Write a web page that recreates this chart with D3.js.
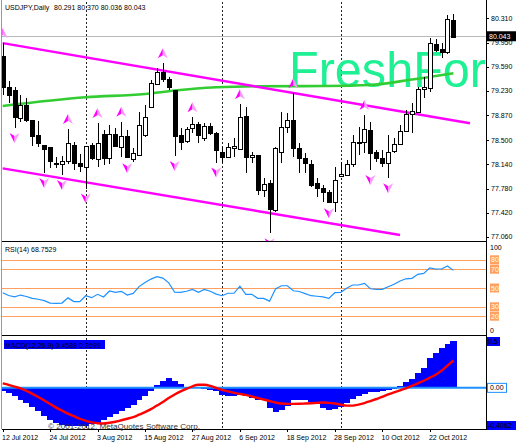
<!DOCTYPE html>
<html><head><meta charset="utf-8">
<script src="https://cdn.jsdelivr.net/npm/d3@7/dist/d3.min.js"></script>
<style>html,body{margin:0;padding:0;background:#fff;}svg{display:block;font-family:"Liberation Sans",Arial,sans-serif;}</style>
</head><body>
<script>
// ---------- DATA ----------
const dates = ["12 Jul","13 Jul","16 Jul","17 Jul","18 Jul","19 Jul","20 Jul","23 Jul","24 Jul","25 Jul","26 Jul","27 Jul","30 Jul","31 Jul",
"1 Aug","2 Aug","3 Aug","6 Aug","7 Aug","8 Aug","9 Aug","10 Aug","13 Aug","14 Aug","15 Aug","16 Aug","17 Aug","20 Aug","21 Aug","22 Aug","23 Aug","24 Aug","27 Aug","28 Aug","29 Aug","30 Aug","31 Aug",
"3 Sep","4 Sep","5 Sep","6 Sep","7 Sep","10 Sep","11 Sep","12 Sep","13 Sep","14 Sep","17 Sep","18 Sep","19 Sep","20 Sep","21 Sep","24 Sep","25 Sep","26 Sep","27 Sep","28 Sep",
"1 Oct","2 Oct","3 Oct","4 Oct","5 Oct","8 Oct","9 Oct","10 Oct","11 Oct","12 Oct","15 Oct","16 Oct","17 Oct","18 Oct","19 Oct","22 Oct","23 Oct","24 Oct","25 Oct","26 Oct"];
const open  = [79.750,79.294,79.245,78.824,79.022,78.799,78.576,78.427,78.393,78.165,78.145,78.179,78.427,78.165,78.105,78.427,78.230,78.590,78.230,78.590,78.400,78.560,78.215,78.279,78.576,78.988,79.334,79.517,79.404,79.245,78.576,78.477,78.676,78.735,78.527,78.710,78.610,78.328,78.254,78.378,78.378,78.858,78.244,78.279,77.759,77.858,77.463,78.328,78.700,78.800,78.378,78.230,78.145,77.858,77.793,77.734,77.585,77.967,77.982,78.145,78.477,78.467,78.650,78.328,78.239,78.170,78.328,78.438,78.635,78.883,78.922,79.260,79.270,79.924,79.849,79.814,80.291];
const high  = [79.943,79.378,79.294,79.170,79.126,78.800,78.788,78.430,78.400,78.254,78.268,78.665,78.477,78.293,78.413,78.457,78.754,78.650,78.724,78.680,78.774,78.650,78.383,78.922,79.022,79.393,79.567,79.641,79.443,79.245,78.680,78.700,78.839,78.774,78.750,78.750,78.625,78.400,78.452,78.527,79.032,78.997,78.328,78.279,77.933,77.900,78.400,78.922,78.898,79.196,78.452,78.304,78.204,77.933,77.833,77.759,78.096,78.179,78.204,78.576,78.700,78.873,78.774,78.353,78.353,78.576,78.527,78.724,78.953,79.047,79.294,79.443,80.013,80.002,79.939,80.360,80.370];
const low   = [79.170,79.051,78.680,78.774,78.774,78.410,78.400,78.011,78.081,78.081,77.980,78.145,78.056,78.030,77.780,78.200,78.105,78.130,78.145,78.400,78.254,78.230,78.180,78.279,78.550,78.973,79.319,79.368,79.245,78.264,78.353,78.462,78.610,78.462,78.490,78.576,78.165,78.155,78.230,78.254,78.363,78.007,78.165,77.685,77.660,77.115,77.437,78.155,78.600,78.254,78.007,78.007,77.808,77.660,77.585,77.561,77.437,77.957,77.967,78.105,78.279,78.304,78.056,78.180,78.105,77.933,78.304,78.427,78.616,78.600,78.898,79.121,79.210,79.814,79.716,79.775,80.036];
const close = [79.289,79.170,78.848,79.022,78.799,78.561,78.452,78.363,78.179,78.145,78.194,78.452,78.155,78.115,78.413,78.230,78.462,78.230,78.590,78.413,78.560,78.254,78.304,78.725,78.848,79.344,79.517,79.418,79.285,78.561,78.477,78.660,78.735,78.576,78.710,78.610,78.363,78.254,78.400,78.413,78.848,78.254,78.279,77.759,77.848,77.472,78.378,78.700,78.800,78.378,78.230,78.155,77.833,77.784,77.734,77.585,77.907,77.997,78.145,78.477,78.462,78.665,78.304,78.239,78.170,78.328,78.438,78.635,78.883,78.933,79.260,79.294,79.940,79.839,79.805,80.300,80.043];
// moving average readings (bar index, price)
const maBars   = [0, 14, 24, 29, 36, 43, 54, 62, 69, 76];
const maValues = [79.007,79.136,79.185,79.237,79.285,79.300,79.304,79.319,79.400,79.493];
// channel trend lines: [barIndex, price] anchor pairs
const upperLine = [[0, 79.94], [78.8, 78.75]];
const lowerLine = [[0, 78.08], [67, 77.09]];
// fractals
const fractalUp   = ["12 Jul","27 Jul","3 Aug","9 Aug","20 Aug","27 Aug","6 Sep","19 Sep","5 Oct"];
const fractalDown = ["16 Jul","23 Jul","26 Jul","1 Aug","10 Aug","22 Aug","31 Aug","13 Sep","27 Sep","8 Oct","11 Oct"];
const separators  = ["1 Aug","3 Sep","1 Oct"];
const priceTicks  = [80.310,79.950,79.590,79.230,78.870,78.500,78.140,77.780,77.420,77.060];
const lastPrice = 80.043;
const watermark = "FreshFor";
const rsi = [45,42,40.5,42.5,41,39,38,36.5,34,33.7,34,39.5,35.5,35.4,41.8,39.7,43.3,40.5,46.8,45.4,46.5,42.5,44.2,51.5,55.8,59.5,62,60.5,55.5,45.5,45.3,46.5,48.5,45.5,48.5,46.5,43.5,41.8,44.4,44.4,52,43.3,43.3,39,39,36,49,52.4,52.4,47.1,46.3,44,41.8,41.2,40.5,39,45,45.4,49.7,53.2,53.2,55,49.2,48.6,48.6,51.4,54,57.5,59.8,60.3,64.5,65.6,71.5,70.2,70.2,73.4,68.75];
const rsiLevels = [80,70,50,30,20];
const macdHist = [-0.027,-0.05,-0.077,-0.117,-0.15,-0.19,-0.233,-0.276,-0.316,-0.343,-0.363,-0.373,-0.376,-0.376,-0.373,-0.36,-0.343,-0.316,-0.29,-0.256,-0.227,-0.2,-0.167,-0.124,-0.077,-0.034,0.033,0.066,0.1,0.066,0.04,0.013,0.003,-0.005,-0.01,-0.02,-0.033,-0.067,-0.077,-0.083,-0.07,-0.083,-0.1,-0.116,-0.124,-0.2,-0.243,-0.217,-0.177,-0.124,-0.116,-0.124,-0.143,-0.157,-0.2,-0.216,-0.21,-0.19,-0.15,-0.11,-0.077,-0.057,-0.044,-0.037,-0.033,-0.023,-0.01,0.023,0.057,0.09,0.15,0.2,0.29,0.343,0.39,0.433,0.4588];
const macdSignal = [0.045,0.03,0.012,-0.005,-0.03,-0.06,-0.09,-0.125,-0.16,-0.195,-0.225,-0.255,-0.28,-0.305,-0.325,-0.34,-0.35,-0.352,-0.345,-0.335,-0.32,-0.305,-0.29,-0.265,-0.24,-0.21,-0.175,-0.14,-0.1,-0.065,-0.035,-0.01,0.015,0.03,0.03,0.02,0.0,-0.02,-0.035,-0.05,-0.06,-0.07,-0.085,-0.1,-0.115,-0.13,-0.145,-0.155,-0.158,-0.158,-0.157,-0.155,-0.152,-0.148,-0.145,-0.148,-0.155,-0.165,-0.175,-0.175,-0.165,-0.15,-0.13,-0.11,-0.09,-0.065,-0.045,-0.025,-0.005,0.02,0.045,0.07,0.1,0.13,0.17,0.22,0.2699];
const dateTicks = ["12 Jul","24 Jul","3 Aug","15 Aug","27 Aug","6 Sep","18 Sep","28 Sep","10 Oct","22 Oct"];
const year = "2012";

// ---------- LAYOUT ----------
const W = 518, H = 444;
const L = 2, R = 486;
const main = {top: 2, bottom: 241};
const rsiP = {top: 241, bottom: 335};
const macdP = {top: 336, bottom: 429};
const FS = 7;

const svg = d3.select("body").append("svg").attr("width", W).attr("height", H);
const defs = svg.append("defs");
function clip(id, p){ defs.append("clipPath").attr("id", id).append("rect").attr("x", L).attr("y", p.top).attr("width", R - L).attr("height", p.bottom - p.top); }
clip("cMain", main); clip("cRsi", rsiP); clip("cMacd", macdP);

const x = d3.scalePoint().domain(dates).range([2.7, 453.4]);
const xi = d3.scaleLinear().domain([0, dates.length - 1]).range([2.7, 453.4]);
const y = d3.scaleLinear().domain([77.0, 80.552]).range([main.bottom, main.top]);
const yR = d3.scaleLinear().domain([0, 100]).range([rsiP.bottom, rsiP.top]);
const yM = d3.scaleLinear().domain([-0.4062, 0.512]).range([macdP.bottom, macdP.top]);

// ---------- MAIN PANEL ----------
const sepG = svg.append("g");
separators.forEach(d => {
  sepG.append("line").attr("x1", Math.round(x(d)) + 0.5).attr("x2", Math.round(x(d)) + 0.5)
    .attr("y1", main.top).attr("y2", macdP.bottom)
    .attr("stroke", "#222").attr("stroke-dasharray", "2,2").attr("stroke-width", 1);
});
// watermark (behind the marks)
svg.append("text").attr("x", 289).attr("y", 87).attr("font-size", 50).attr("fill", "#1ff093")
  .attr("textLength", 197).attr("lengthAdjust", "spacingAndGlyphs").text(watermark);
const gM = svg.append("g").attr("clip-path", "url(#cMain)");
gM.append("line").attr("x1", L).attr("x2", R).attr("y1", Math.round(y(lastPrice)) + 0.5).attr("y2", Math.round(y(lastPrice)) + 0.5)
  .attr("stroke", "#b8b8b8").attr("stroke-width", 1);
// moving average
gM.append("path").datum(maBars.map((b, i) => [xi(b), y(maValues[i])]))
  .attr("d", d3.line().curve(d3.curveMonotoneX)).attr("fill", "none").attr("stroke", "#33cc33").attr("stroke-width", 2.6);
// trend lines
[upperLine, lowerLine].forEach(l => {
  gM.append("line").attr("x1", xi(l[0][0])).attr("y1", y(l[0][1])).attr("x2", xi(l[1][0])).attr("y2", y(l[1][1]))
    .attr("stroke", "#ff00ff").attr("stroke-width", 2.4);
});
// candles
dates.forEach((d, i) => {
  const cx = Math.round(x(d));
  gM.append("line").attr("x1", cx + 0.5).attr("x2", cx + 0.5).attr("y1", y(high[i])).attr("y2", y(low[i]))
    .attr("stroke", "#000").attr("stroke-width", 1).attr("shape-rendering", "crispEdges");
  const top = y(Math.max(open[i], close[i])), bot = y(Math.min(open[i], close[i]));
  gM.append("rect").attr("x", cx - 1.5).attr("y", Math.round(top) + 0.5).attr("width", 4).attr("height", Math.max(1, Math.round(bot - top)))
    .attr("fill", close[i] < open[i] ? "#000" : "#fff").attr("stroke", "#000").attr("stroke-width", 1).attr("shape-rendering", "crispEdges");
});
// fractals
function arrow(g, cx, cy, up){
  const s = up ? 1 : -1;
  g.append("path").attr("d", `M${cx},${cy - 5*s} L${cx - 5},${cy + 5*s} L${cx},${cy + 2*s} Z`).attr("fill", "#ff00ff");
  g.append("path").attr("d", `M${cx},${cy - 5*s} L${cx + 5},${cy + 5*s} L${cx},${cy + 2*s} Z`).attr("fill", "#ff99ff");
}
fractalUp.forEach(d => { const i = dates.indexOf(d); arrow(gM, x(d), y(high[i]) - 10, true); });
fractalDown.forEach(d => { const i = dates.indexOf(d); arrow(gM, x(d), y(low[i]) + 10, false); });

// ---------- RSI PANEL ----------
const gR = svg.append("g").attr("clip-path", "url(#cRsi)");
rsiLevels.forEach(v => {
  gR.append("line").attr("x1", L).attr("x2", R).attr("y1", Math.round(yR(v)) + 0.5).attr("y2", Math.round(yR(v)) + 0.5)
    .attr("stroke", "#ffa060").attr("stroke-width", 1);
});
gR.append("path").datum(rsi).attr("d", d3.line().x((v, i) => x(dates[i])).y(v => yR(v)))
  .attr("fill", "none").attr("stroke", "#1e90ff").attr("stroke-width", 1.2);

// ---------- MACD PANEL ----------
const gC = svg.append("g").attr("clip-path", "url(#cMacd)");
const slot = x.step();
dates.forEach((d, i) => {
  const v = macdHist[i];
  gC.append("rect").attr("x", x(d) - slot / 2).attr("width", slot + 0.4)
    .attr("y", Math.min(yM(v), yM(0))).attr("height", Math.abs(yM(v) - yM(0)))
    .attr("fill", "#0000ff").attr("shape-rendering", "crispEdges");
});
gC.append("line").attr("x1", L).attr("x2", R).attr("y1", yM(0)).attr("y2", yM(0)).attr("stroke", "#1e90ff").attr("stroke-width", 2);
gC.append("path").datum(macdSignal).attr("d", d3.line().curve(d3.curveMonotoneX).x((v, i) => x(dates[i])).y(v => yM(v)))
  .attr("fill", "none").attr("stroke", "#ff0000").attr("stroke-width", 2.4);

// ---------- FRAMES ----------
const fr = svg.append("g").attr("shape-rendering", "crispEdges");
fr.append("line").attr("x1", 1.5).attr("x2", 1.5).attr("y1", 0).attr("y2", macdP.bottom).attr("stroke", "#999");
fr.append("line").attr("x1", R + 0.5).attr("x2", R + 0.5).attr("y1", 0).attr("y2", macdP.bottom + 1).attr("stroke", "#000");
[main.bottom, rsiP.bottom].forEach(v => fr.append("rect").attr("x", L).attr("y", v - 0.5).attr("width", R - L + 1).attr("height", 1.5).attr("fill", "#000"));
fr.append("line").attr("x1", L).attr("x2", R).attr("y1", macdP.bottom + 0.5).attr("y2", macdP.bottom + 0.5).attr("stroke", "#000");

// ---------- TEXTS ----------
const T = (xx, yy, s, opt = {}) => svg.append("text").attr("x", xx).attr("y", yy).attr("font-size", opt.fs || FS).attr("fill", opt.fill || "#000").attr("text-anchor", opt.anchor || "start").text(s);
T(5, 10, "USDJPY,Daily");
T(54, 10, [open[76], high[76], low[76], close[76]].map(v => v.toFixed(3)).join(" "));
priceTicks.forEach(p => {
  fr.append("line").attr("x1", R).attr("x2", R + 3).attr("y1", Math.round(y(p)) + 0.5).attr("y2", Math.round(y(p)) + 0.5).attr("stroke", "#000");
  T(491, y(p) + 2.5, p.toFixed(3));
});
svg.append("rect").attr("x", 487).attr("y", y(lastPrice) - 5).attr("width", 29).attr("height", 10).attr("fill", "#000");
T(489, y(lastPrice) + 2.5, lastPrice.toFixed(3), {fill: "#fff"});
T(5, 252, "RSI(14) 68.7529");
T(490, 250, "100");
T(490, 333, "0");
rsiLevels.forEach(v => {
  svg.append("rect").attr("x", 490).attr("y", yR(v) - 4.5).attr("width", 9).attr("height", 9).attr("fill", "#ffa060");
  T(491, yR(v) + 2.5, String(v), {fill: "#fff"});
});
svg.append("rect").attr("x", 4).attr("y", 340).attr("width", 101).attr("height", 9).attr("fill", "#0000ff");
T(5, 347.5, "MACD(12,26,9) " + macdHist[76].toFixed(4) + " " + macdSignal[76].toFixed(4), {fill: "#000"});
svg.append("rect").attr("x", 487).attr("y", yM(0.512) + 1).attr("width", 13).attr("height", 9).attr("fill", "#0000ff");
T(488, yM(0.512) + 8, "0.5", {fill: "#000"});
svg.append("rect").attr("x", 487.5).attr("y", yM(0) - 4.5).attr("width", 19).attr("height", 9).attr("fill", "none").attr("stroke", "#1e90ff");
T(490, yM(0) + 2.5, "0.00");
svg.append("rect").attr("x", 487).attr("y", yM(-0.4062) - 8).attr("width", 29).attr("height", 9).attr("fill", "#0000ff");
T(488, yM(-0.4062) - 1, "-0.4062", {fill: "#000"});
svg.append("text").attr("x", 48).attr("y", 429).attr("font-size", 7.8).attr("fill", "#333")
  .attr("textLength", 152).attr("lengthAdjust", "spacingAndGlyphs").text("\u00a9 2001-2012, MetaQuotes Software Corp.");
dateTicks.forEach(d => {
  fr.append("line").attr("x1", Math.round(x(d)) + 0.5).attr("x2", Math.round(x(d)) + 0.5).attr("y1", macdP.bottom).attr("y2", macdP.bottom + 3).attr("stroke", "#000");
  T(x(d) - 0.7, 440, d + " " + year);
});
</script>
</body></html>
